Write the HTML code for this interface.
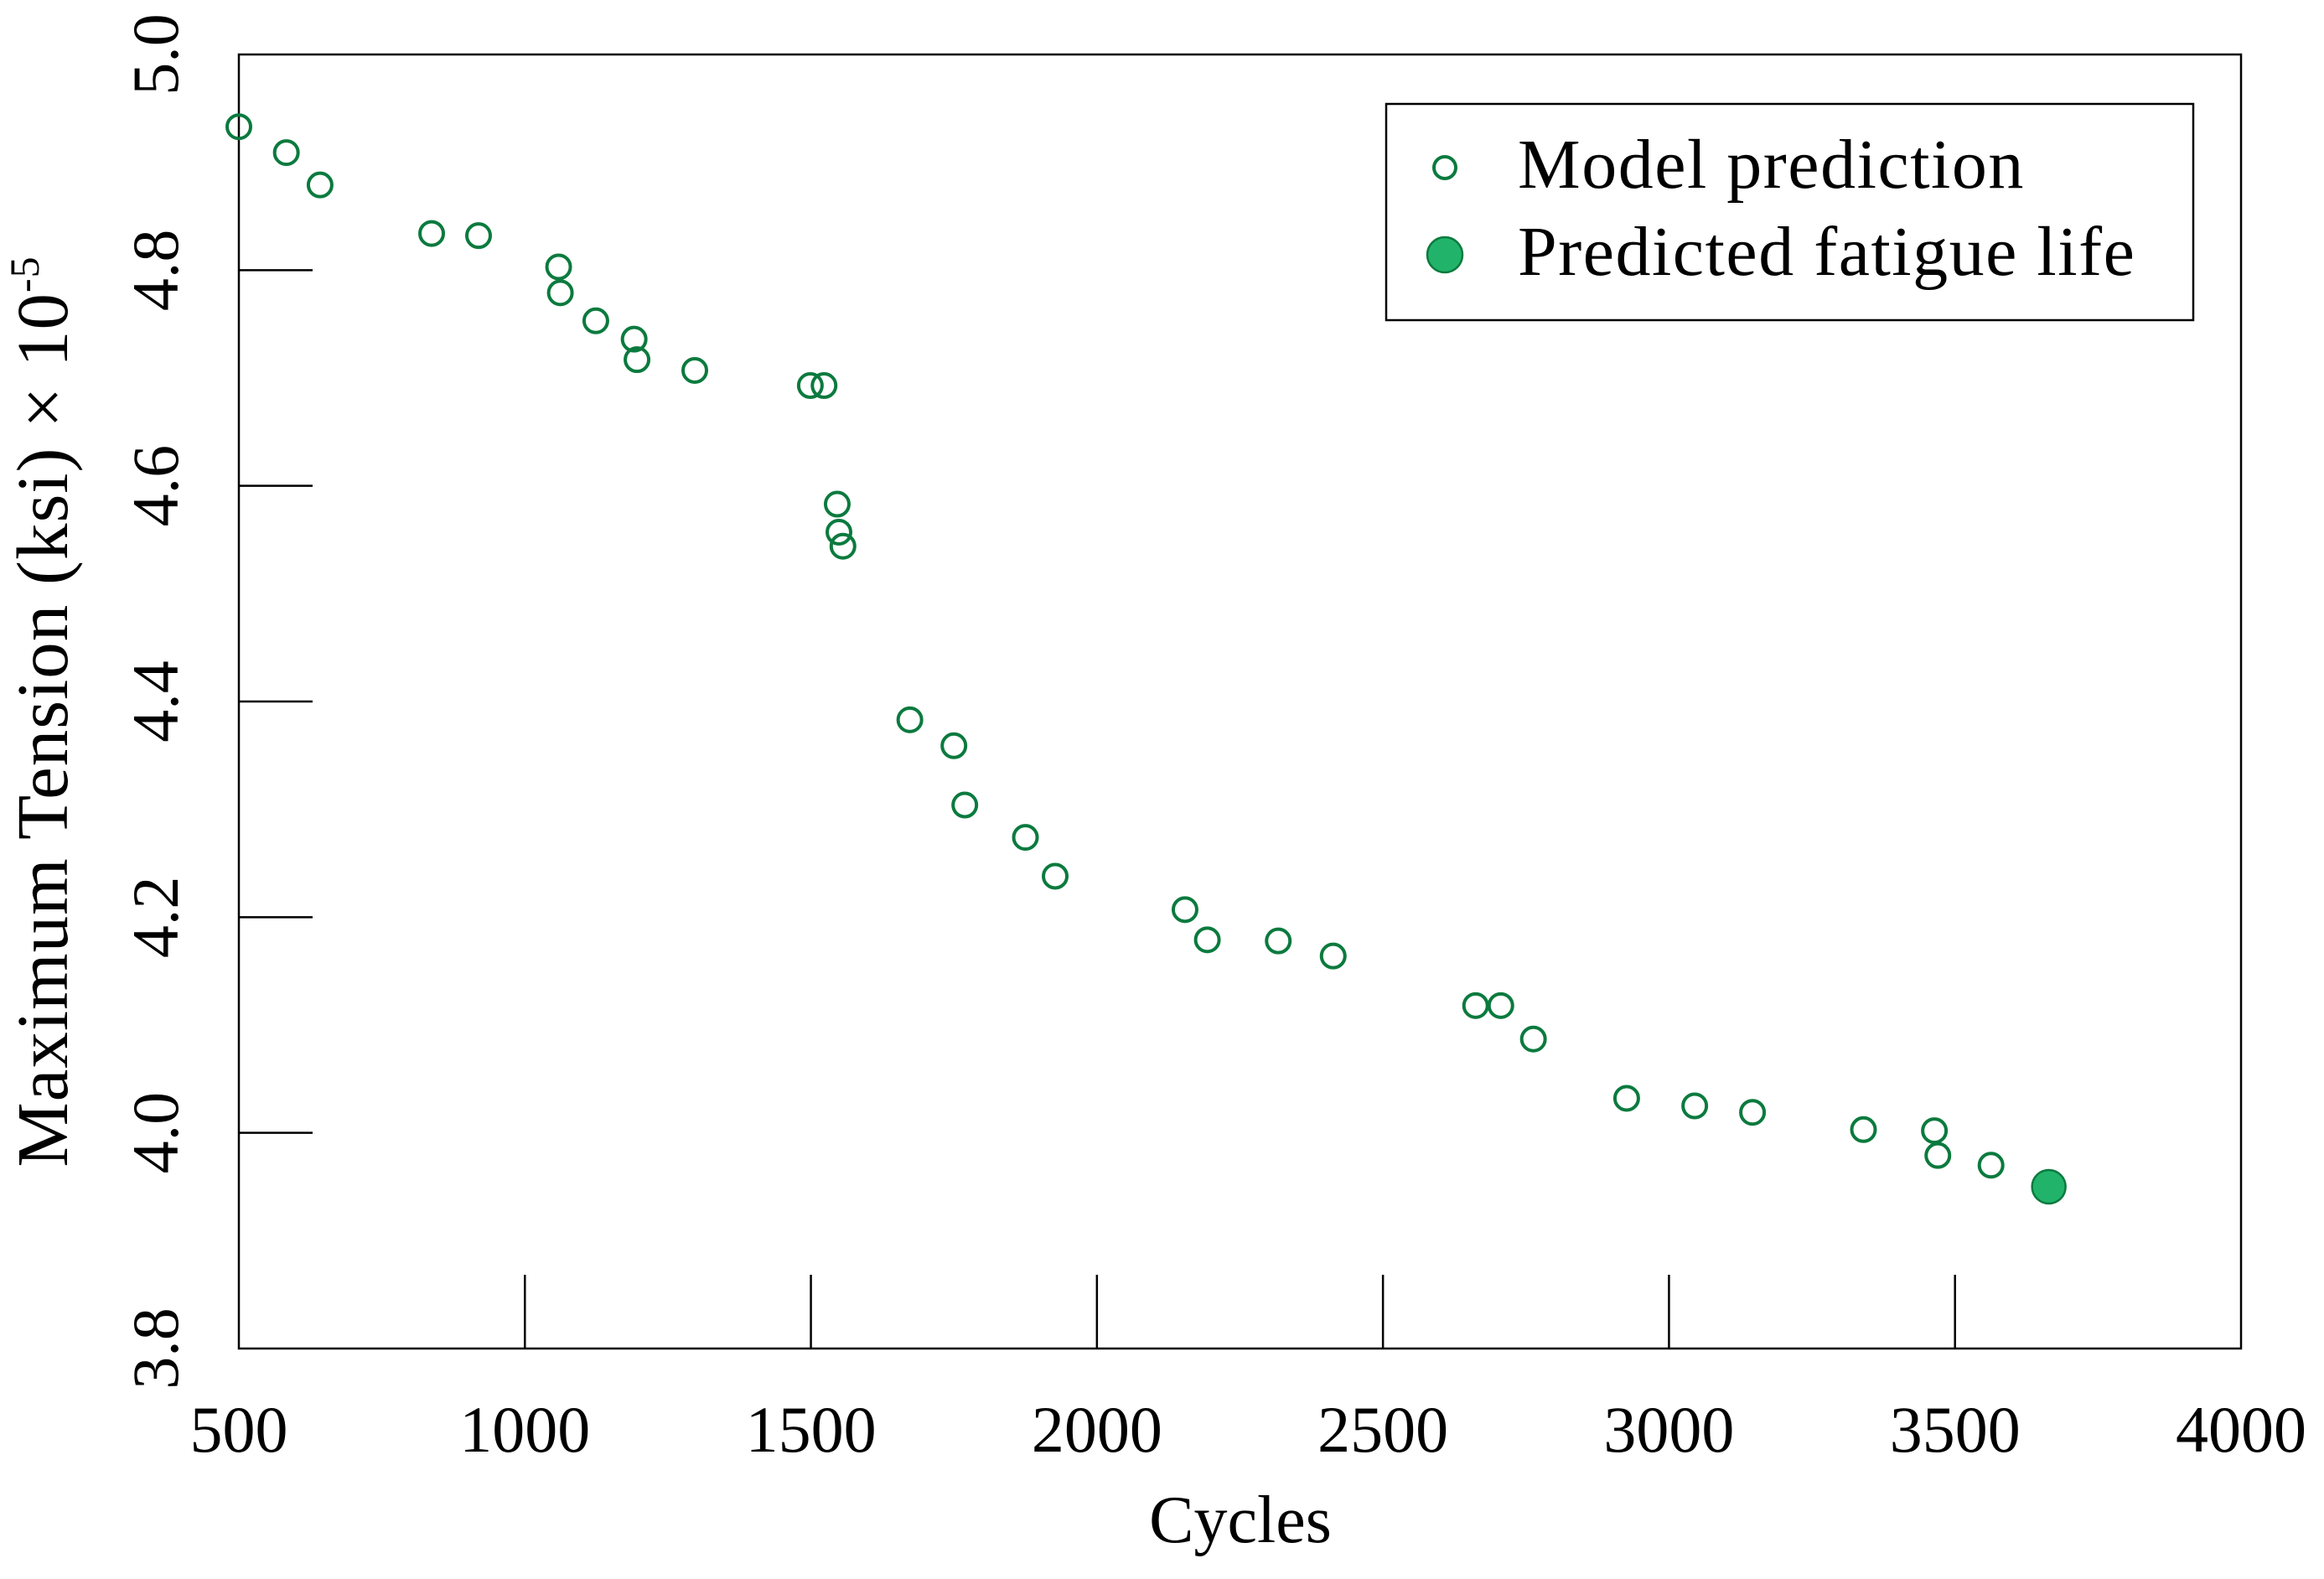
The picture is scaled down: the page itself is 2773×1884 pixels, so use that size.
<!DOCTYPE html>
<html><head><meta charset="utf-8"><style>
html,body{margin:0;padding:0;background:#fff;}
svg{display:block;font-family:"Liberation Serif",serif;}
</style></head><body>
<svg id="chart" width="2773" height="1884" viewBox="0 0 2773 1884" xmlns="http://www.w3.org/2000/svg">
<rect x="0" y="0" width="2773" height="1884" fill="#fff"/>
<g id="axes"></g>
<g id="points"></g>
<g>
<rect x="1654" y="124" width="963" height="258" fill="#fff" stroke="#000" stroke-width="2.5"/>
<circle cx="1724" cy="200" r="13" fill="none" stroke="#0b7a3e" stroke-width="4"/>
<text x="1811" y="224" font-size="84" letter-spacing="1.5">Model prediction</text>
<circle cx="1724" cy="304" r="21" fill="#22b36a" stroke="#0b7a3e" stroke-width="2.5"/>
<text x="1811" y="328" font-size="84" letter-spacing="1.5">Predicted fatigue life</text>
</g>
<text x="1480" y="1840" font-size="80" text-anchor="middle">Cycles</text>
<text transform="translate(80,849) rotate(-90)" font-size="87" letter-spacing="1" text-anchor="middle">Maximum Tension (ksi) × 10<tspan font-size="50" dy="-34">-5</tspan></text>
</svg>
<script>
const xVals=[500,583,642,837,919,1059,1062,1124,1191,1196,1297,1499,1523,1546,1549,1556,1673,1750,1769,1875,1927,2154,2193,2317,2413,2662,2706,2763,2926,3045,3146,3340,3464,3470,3563];
const yVals=[4.933,4.909,4.879,4.834,4.832,4.803,4.779,4.753,4.736,4.717,4.707,4.693,4.693,4.583,4.557,4.544,4.383,4.359,4.304,4.274,4.238,4.207,4.179,4.178,4.164,4.118,4.118,4.087,4.032,4.025,4.019,4.003,4.002,3.979,3.970];
const fatigueX=[3664];
const fatigueY=[3.950];
const xTicks=[500,1000,1500,2000,2500,3000,3500,4000];
const yTicks=[3.8,4.0,4.2,4.4,4.6,4.8,5.0];
const L=285,R=2674,T=65,B=1609;
const xMin=500,xMax=4000,yMin=3.8,yMax=5.0;
function sx(v){return L+(v-xMin)/(xMax-xMin)*(R-L);}
function sy(v){return B-(v-yMin)/(yMax-yMin)*(B-T);}
const NS='http://www.w3.org/2000/svg';
const axes=document.getElementById('axes');
const pts=document.getElementById('points');
function mk(tag,attrs,parent){const e=document.createElementNS(NS,tag);for(const k in attrs)e.setAttribute(k,attrs[k]);parent.appendChild(e);return e;}
const frame=mk('rect',{x:L,y:T,width:R-L,height:B-T,fill:'none',stroke:'#000','stroke-width':2.5},axes);


xTicks.forEach(v=>{
  const x=sx(v);
  if(v>xMin&&v<xMax){
    const t=mk('line',{x1:x,y1:B,x2:x,y2:B-88,stroke:'#000','stroke-width':2.5},axes);
    
    
  }
  const lb=mk('text',{x:x,y:1732,'font-size':78,'text-anchor':'middle'},axes);
  lb.textContent=String(v);
  
  
});
yTicks.forEach(v=>{
  const y=sy(v);
  if(v>yMin&&v<yMax){
    const t=mk('line',{x1:L,y1:y,x2:L+88,y2:y,stroke:'#000','stroke-width':2.5},axes);
    
    
  }
  const lb=mk('text',{transform:'translate(212,'+y+') rotate(-90)','font-size':78,'text-anchor':'middle'},axes);
  lb.textContent=v.toFixed(1);
  
  
});
xVals.forEach((v,i)=>{
  const c=mk('circle',{cx:sx(v),cy:sy(yVals[i]),r:14,fill:'none',stroke:'#0b7a3e','stroke-width':4},pts);
  
  
});
fatigueX.forEach((v,i)=>{
  const c=mk('circle',{cx:sx(v),cy:sy(fatigueY[i]),r:20,fill:'#22b36a',stroke:'#0b7a3e','stroke-width':2.5},pts);
  
  
});
</script>
</body></html>
